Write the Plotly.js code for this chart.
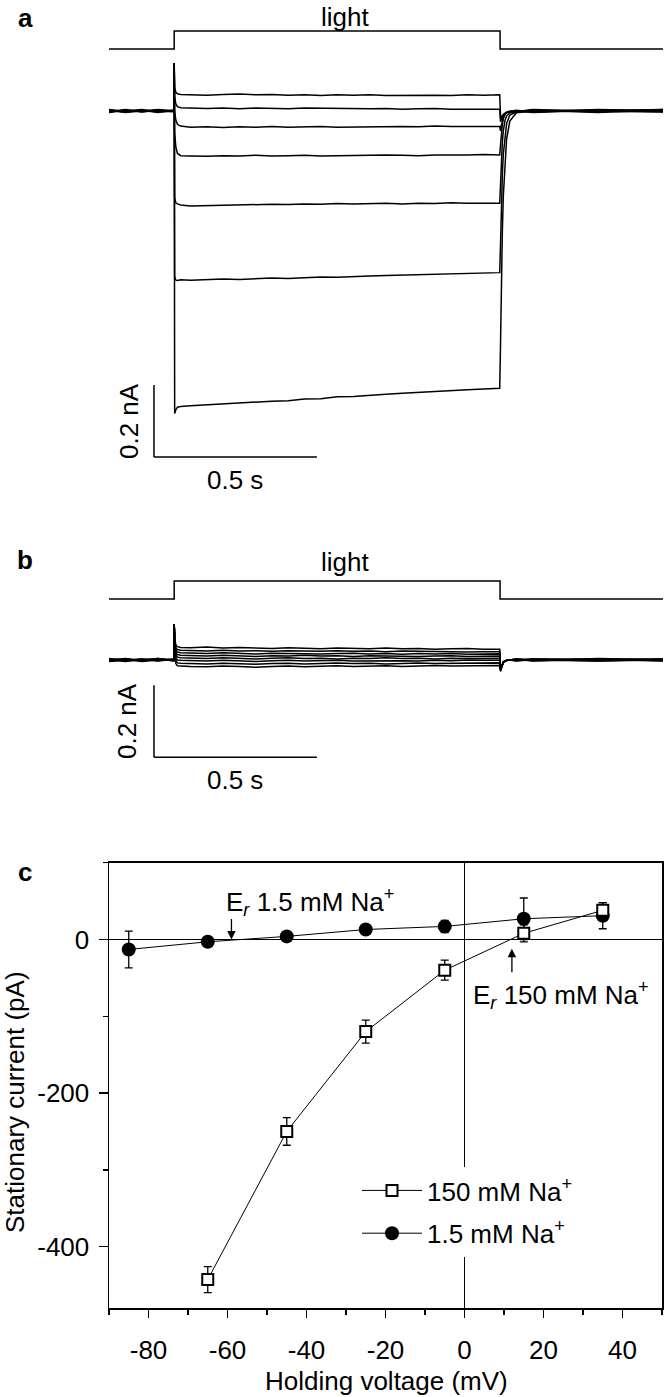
<!DOCTYPE html>
<html><head><meta charset="utf-8">
<script src="https://cdn.plot.ly/plotly-3.0.1.min.js"></script>
<style>html,body{margin:0;padding:0;background:#fff}#chart{width:664px;height:1397px}</style>
</head><body><div id="chart"></div>
<script>
// ---------- Panel a / b : time base (s) ----------
const tTrace = [0, 0.05, 0.10, 0.15, 0.199, 0.2, 0.2015, 0.205, 0.21, 0.22,
  0.25, 0.30, 0.35, 0.40, 0.45, 0.50, 0.55, 0.60, 0.65, 0.70, 0.75, 0.80, 0.85, 0.90, 0.95, 1.00, 1.05, 1.10, 1.15,
  1.199, 1.2015, 1.204, 1.207, 1.21, 1.215, 1.22, 1.23, 1.25, 1.3, 1.5, 1.7];
const lightT  = [0, 0.2, 0.2, 1.2, 1.2, 1.7];
const lightOn = [0, 0, 1, 1, 0, 0];

// ---------- Panel a : currents (nA), 150 mM Na+ ----------
const a1 = [0.004,-0.002,0.003,-0.001,0.002,0.133,0.065,0.052,0.048,0.046,0.045,0.044,0.046,0.047,0.045,0.046,0.044,0.045,0.043,0.045,0.044,0.045,0.043,0.044,0.045,0.044,0.043,0.045,0.044,0.045,-0.020,-0.018,-0.013,-0.009,-0.005,-0.003,-0.001,0.002,-0.003,0.004,0.001];
const a2 = [-0.002,0.004,-0.003,0.003,0.000,0.133,0.040,0.020,0.012,0.009,0.008,0.007,0.008,0.006,0.008,0.007,0.006,0.008,0.007,0.006,0.007,0.006,0.007,0.005,0.006,0.007,0.005,0.006,0.005,0.005,-0.030,-0.025,-0.018,-0.012,-0.007,-0.004,-0.001,-0.002,0.003,-0.002,0.004];
const a3 = [0.001,-0.003,0.002,-0.004,0.003,0.133,0.000,-0.025,-0.037,-0.042,-0.045,-0.044,-0.046,-0.044,-0.045,-0.043,-0.045,-0.044,-0.043,-0.045,-0.044,-0.043,-0.044,-0.043,-0.044,-0.042,-0.043,-0.044,-0.043,-0.043,-0.055,-0.040,-0.026,-0.017,-0.008,-0.004,-0.002,0.001,-0.004,0.002,-0.002];
const a4 = [0.003,-0.004,0.000,0.002,-0.002,0.133,-0.060,-0.100,-0.118,-0.124,-0.125,-0.126,-0.124,-0.125,-0.123,-0.125,-0.124,-0.123,-0.125,-0.124,-0.123,-0.124,-0.122,-0.123,-0.124,-0.122,-0.123,-0.122,-0.121,-0.122,-0.094,-0.062,-0.037,-0.022,-0.010,-0.005,-0.002,0.000,0.002,-0.004,0.003];
const a5 = [-0.004,0.002,-0.002,0.001,0.001,0.133,-0.240,-0.255,-0.258,-0.261,-0.264,-0.263,-0.261,-0.262,-0.260,-0.259,-0.260,-0.258,-0.259,-0.257,-0.258,-0.257,-0.256,-0.258,-0.256,-0.257,-0.255,-0.256,-0.255,-0.256,-0.203,-0.138,-0.087,-0.055,-0.027,-0.014,-0.005,-0.002,-0.001,0.001,0.004];
const a6 = [0.002,0.000,0.004,-0.003,-0.001,0.133,-0.460,-0.470,-0.471,-0.469,-0.470,-0.468,-0.467,-0.468,-0.465,-0.464,-0.465,-0.462,-0.461,-0.462,-0.459,-0.458,-0.457,-0.456,-0.455,-0.453,-0.452,-0.451,-0.450,-0.449,-0.368,-0.263,-0.177,-0.120,-0.065,-0.035,-0.011,-0.003,0.004,-0.001,-0.003];
const a7 = [-0.003,0.003,-0.001,0.004,0.000,0.133,-0.840,-0.830,-0.823,-0.821,-0.819,-0.816,-0.815,-0.811,-0.809,-0.806,-0.805,-0.800,-0.799,-0.794,-0.793,-0.789,-0.787,-0.784,-0.781,-0.779,-0.776,-0.774,-0.772,-0.770,-0.644,-0.478,-0.335,-0.236,-0.135,-0.078,-0.028,-0.005,0.000,0.003,-0.001];

// ---------- Panel b : currents (nA), 1.5 mM Na+ ----------
const b1 = [0.004,-0.002,0.003,0.000,0.002,0.099,0.060,0.042,0.037,0.035,0.034,0.036,0.033,0.035,0.034,0.032,0.034,0.033,0.031,0.033,0.032,0.031,0.033,0.031,0.032,0.030,0.031,0.032,0.030,0.030,-0.028,-0.020,-0.012,-0.007,-0.003,-0.001,0.000,0.002,-0.003,0.004,0.001];
const b2 = [-0.002,0.003,0.000,0.004,-0.003,0.099,0.060,0.034,0.029,0.027,0.026,0.025,0.027,0.025,0.026,0.024,0.026,0.025,0.024,0.026,0.024,0.025,0.023,0.025,0.024,0.023,0.024,0.022,0.023,0.023,-0.027,-0.019,-0.012,-0.007,-0.003,-0.001,0.000,-0.003,0.003,0.000,0.003];
const b3 = [0.000,0.004,-0.003,0.002,0.001,0.099,0.060,0.028,0.022,0.020,0.019,0.018,0.020,0.019,0.017,0.019,0.018,0.019,0.017,0.018,0.019,0.017,0.018,0.016,0.018,0.017,0.018,0.016,0.017,0.017,-0.027,-0.019,-0.011,-0.006,-0.003,-0.001,0.000,0.003,0.000,-0.003,0.002];
const b4 = [0.003,0.000,0.002,-0.003,0.002,0.099,0.060,0.021,0.015,0.013,0.012,0.011,0.013,0.012,0.010,0.012,0.011,0.013,0.011,0.012,0.010,0.012,0.011,0.012,0.010,0.011,0.012,0.010,0.011,0.011,-0.026,-0.018,-0.011,-0.006,-0.003,-0.001,0.000,0.000,0.003,0.002,-0.003];
const b5 = [-0.003,0.002,-0.004,0.000,0.000,0.099,0.060,0.014,0.008,0.006,0.005,0.004,0.006,0.005,0.003,0.005,0.006,0.004,0.005,0.003,0.005,0.004,0.006,0.004,0.005,0.003,0.005,0.004,0.005,0.005,-0.026,-0.018,-0.010,-0.006,-0.002,-0.001,0.000,-0.002,0.000,0.003,0.000];
const b6 = [0.002,-0.004,0.001,0.003,-0.002,0.099,0.060,0.006,0.000,-0.001,-0.002,-0.003,-0.001,-0.002,-0.004,-0.002,-0.001,-0.003,-0.002,-0.001,-0.003,-0.002,-0.001,-0.002,-0.003,-0.001,-0.002,0.000,-0.001,-0.001,-0.026,-0.018,-0.010,-0.005,-0.002,-0.001,0.000,0.003,-0.002,0.000,0.003];
const b7 = [0.000,0.003,-0.002,0.004,0.000,0.099,0.060,-0.002,-0.008,-0.009,-0.010,-0.011,-0.009,-0.010,-0.012,-0.010,-0.009,-0.011,-0.010,-0.008,-0.010,-0.009,-0.011,-0.009,-0.008,-0.010,-0.009,-0.008,-0.009,-0.008,-0.027,-0.019,-0.011,-0.006,-0.003,-0.001,0.000,0.000,0.002,-0.003,0.000];
const b8 = [-0.004,0.000,0.002,-0.002,0.003,0.099,0.060,-0.010,-0.016,-0.017,-0.018,-0.019,-0.017,-0.018,-0.020,-0.018,-0.017,-0.019,-0.017,-0.016,-0.018,-0.017,-0.016,-0.018,-0.016,-0.015,-0.017,-0.016,-0.015,-0.015,-0.032,-0.022,-0.013,-0.007,-0.003,-0.001,0.000,0.002,-0.001,0.002,-0.002];

// ---------- Panel c : I-V data ----------
const volt150 = [-65, -45, -25, -5, 15, 35];
const cur150  = [-443, -250, -120, -40, 8, 38];
const err150  = [17, 18, 15, 13, 11, 10];
const volt15  = [-85, -65, -45, -25, -5, 15, 35];
const cur15   = [-13, -3, 4, 13, 17, 27, 31];
const err15   = [24, 3, 3, 3, 8, 27, 17];
const xTickVals = [-80, -60, -40, -20, 0, 20, 40];
const xTickText = ['-80', '-60', '-40', '-20', '0', '20', '40'];
const xMinor    = [-90, -70, -50, -30, -10, 10, 30, 50];
const yTickVals = [0, -200, -400];
const yTickText = ['0', '-200', '-400'];
const yMinor    = [100, -100, -300];
const erLow = -59, erHigh = 12;   // reversal potentials marked (mV)

// ---------- layout helpers ----------
const W = 664, H = 1397;
const PX = x => x / W, PY = y => 1 - y / H;
const FONT = 'Liberation Sans, Arial, Helvetica, sans-serif';
const BLK = '#000';

const traces = [];
function addTraces(list, xa, ya) {
  list.forEach(arr => traces.push({
    x: tTrace, y: arr, xaxis: xa, yaxis: ya, type: 'scatter', mode: 'lines',
    line: {color: BLK, width: 1.5}, showlegend: false, hoverinfo: 'skip'
  }));
}
addTraces([a1, a2, a3, a4, a5, a6, a7], 'x2', 'y2');
addTraces([b1, b2, b3, b4, b5, b6, b7, b8], 'x3', 'y3');
traces.push({x: lightT, y: lightOn, xaxis: 'x2', yaxis: 'y4', mode: 'lines', line: {color: BLK, width: 1.5}, showlegend: false});
traces.push({x: lightT, y: lightOn, xaxis: 'x3', yaxis: 'y5', mode: 'lines', line: {color: BLK, width: 1.5}, showlegend: false});

traces.push({
  x: volt15, y: cur15, xaxis: 'x', yaxis: 'y', mode: 'lines+markers', name: '1.5 mM Na<sup>+</sup>',
  legendrank: 2, legendgroup: 'g2', cliponaxis: false,
  line: {color: BLK, width: 1},
  marker: {symbol: 'circle', size: 14, color: BLK},
  error_y: {type: 'data', array: err15, color: BLK, thickness: 1.3, width: 4}
});
traces.push({
  x: volt150, y: cur150, xaxis: 'x', yaxis: 'y', mode: 'lines+markers', name: '150 mM Na<sup>+</sup>',
  legendrank: 1, legendgroup: 'g1', cliponaxis: false,
  line: {color: BLK, width: 1},
  marker: {symbol: 'square', size: 11, color: '#fff', line: {color: BLK, width: 2}},
  error_y: {type: 'data', array: err150, color: BLK, thickness: 1.3, width: 4}
});

const hidden = {visible: false, fixedrange: true};
const layout = {
  width: W, height: H, margin: {l: 0, r: 0, t: 0, b: 0},
  paper_bgcolor: '#fff', plot_bgcolor: 'rgba(0,0,0,0)',
  font: {family: FONT, size: 26, color: BLK},
  showlegend: true,
  legend: {x: PX(357), y: PY(1167), xanchor: 'left', yanchor: 'top', bgcolor: '#fff',
           font: {family: FONT, size: 26, color: BLK}, itemwidth: 60, tracegroupgap: 6,
           traceorder: 'grouped'},
  xaxis: {domain: [PX(109), PX(662)], range: [-90, 50], anchor: 'y',
          showline: true, linecolor: BLK, linewidth: 1.5, mirror: true,
          ticks: 'outside', ticklen: 8, tickwidth: 1.5, tickcolor: BLK,
          tickmode: 'array', tickvals: xTickVals, ticktext: xTickText, ticklabelstandoff: 10,
          minor: {tickmode: 'array', tickvals: xMinor, ticks: 'outside', ticklen: 5, tickwidth: 1.5, tickcolor: BLK, showgrid: false},
          showgrid: false, zeroline: true, zerolinecolor: BLK, zerolinewidth: 1.5,
          tickfont: {family: FONT, size: 26, color: BLK}},
  yaxis: {domain: [PY(1308), PY(862.7)], range: [-480, 100], anchor: 'x',
          showline: true, linecolor: BLK, linewidth: 1.5, mirror: true,
          ticks: 'outside', ticklen: 9, tickwidth: 1.5, tickcolor: BLK,
          tickmode: 'array', tickvals: yTickVals, ticktext: yTickText, ticklabelstandoff: 4,
          minor: {tickmode: 'array', tickvals: yMinor, ticks: 'outside', ticklen: 5, tickwidth: 1.5, tickcolor: BLK, showgrid: false},
          showgrid: false, zeroline: true, zerolinecolor: BLK, zerolinewidth: 1.5,
          tickfont: {family: FONT, size: 26, color: BLK}},
  xaxis2: Object.assign({domain: [PX(109), PX(663)], range: [0, 1.7], anchor: 'y2'}, hidden),
  yaxis2: Object.assign({domain: [PY(500), 1], range: [-1.08056, 0.30833], anchor: 'x2'}, hidden),
  yaxis4: Object.assign({overlaying: 'y2', range: [-25.056, 2.722], anchor: 'x2'}, hidden),
  xaxis3: Object.assign({domain: [PX(109), PX(663)], range: [0, 1.7], anchor: 'y3'}, hidden),
  yaxis3: Object.assign({domain: [PY(800), PY(540)], range: [-0.38889, 0.33333], anchor: 'x3'}, hidden),
  yaxis5: Object.assign({overlaying: 'y3', range: [-11.167, 3.278], anchor: 'x3'}, hidden),
  shapes: [
    // scale bars panel a (0.2 nA, 0.5 s)
    {type: 'line', xref: 'x2', yref: 'y2', x0: 0.138, x1: 0.138, y0: -0.961, y1: -0.761, line: {color: BLK, width: 1.5}},
    {type: 'line', xref: 'x2', yref: 'y2', x0: 0.138, x1: 0.638, y0: -0.961, y1: -0.961, line: {color: BLK, width: 1.5}},
    // scale bars panel b
    {type: 'line', xref: 'x3', yref: 'y3', x0: 0.138, x1: 0.138, y0: -0.270, y1: -0.070, line: {color: BLK, width: 1.5}},
    {type: 'line', xref: 'x3', yref: 'y3', x0: 0.138, x1: 0.638, y0: -0.270, y1: -0.270, line: {color: BLK, width: 1.5}}
  ],
  annotations: [
    {text: '<b>a</b>', xref: 'paper', yref: 'paper', x: PX(25), y: PY(17.5), showarrow: false, xanchor: 'center', yanchor: 'middle'},
    {text: 'light', xref: 'paper', yref: 'paper', x: PX(345), y: PY(17), showarrow: false, xanchor: 'center', yanchor: 'middle'},
    {text: '<b>b</b>', xref: 'paper', yref: 'paper', x: PX(25), y: PY(560), showarrow: false, xanchor: 'center', yanchor: 'middle'},
    {text: 'light', xref: 'paper', yref: 'paper', x: PX(345), y: PY(562), showarrow: false, xanchor: 'center', yanchor: 'middle'},
    {text: '<b>c</b>', xref: 'paper', yref: 'paper', x: PX(25), y: PY(872), showarrow: false, xanchor: 'center', yanchor: 'middle'},
    {text: '0.2 nA', xref: 'paper', yref: 'paper', x: PX(129), y: PY(421), textangle: -90, showarrow: false, xanchor: 'center', yanchor: 'middle'},
    {text: '0.5 s', xref: 'paper', yref: 'paper', x: PX(235), y: PY(480), showarrow: false, xanchor: 'center', yanchor: 'middle'},
    {text: '0.2 nA', xref: 'paper', yref: 'paper', x: PX(127), y: PY(721), textangle: -90, showarrow: false, xanchor: 'center', yanchor: 'middle'},
    {text: '0.5 s', xref: 'paper', yref: 'paper', x: PX(235), y: PY(780), showarrow: false, xanchor: 'center', yanchor: 'middle'},
    {text: 'Stationary current (pA)', xref: 'paper', yref: 'paper', x: PX(15), y: PY(1102), textangle: -90, showarrow: false, xanchor: 'center', yanchor: 'middle'},
    {text: 'Holding voltage (mV)', xref: 'paper', yref: 'paper', x: PX(386), y: PY(1381), showarrow: false, xanchor: 'center', yanchor: 'middle'},
    {text: 'E<sub><i>r</i></sub> 1.5 mM Na<sup>+</sup>', xref: 'paper', yref: 'paper', x: PX(224), y: PY(902), showarrow: false, xanchor: 'left', yanchor: 'middle'},
    {text: 'E<sub><i>r</i></sub> 150 mM Na<sup>+</sup>', xref: 'paper', yref: 'paper', x: PX(471), y: PY(995), showarrow: false, xanchor: 'left', yanchor: 'middle'},
    {text: '', xref: 'x', yref: 'y', x: erLow, y: 0, ax: 0, ay: -22, showarrow: true, arrowhead: 2, arrowsize: 1.3, arrowwidth: 1.3, arrowcolor: BLK},
    {text: '', xref: 'x', yref: 'y', x: erHigh, y: -12, ax: 0, ay: 25, showarrow: true, arrowhead: 2, arrowsize: 1.3, arrowwidth: 1.3, arrowcolor: BLK}
  ]
};
Plotly.newPlot('chart', traces, layout, {staticPlot: true, displayModeBar: false});
</script></body></html>
